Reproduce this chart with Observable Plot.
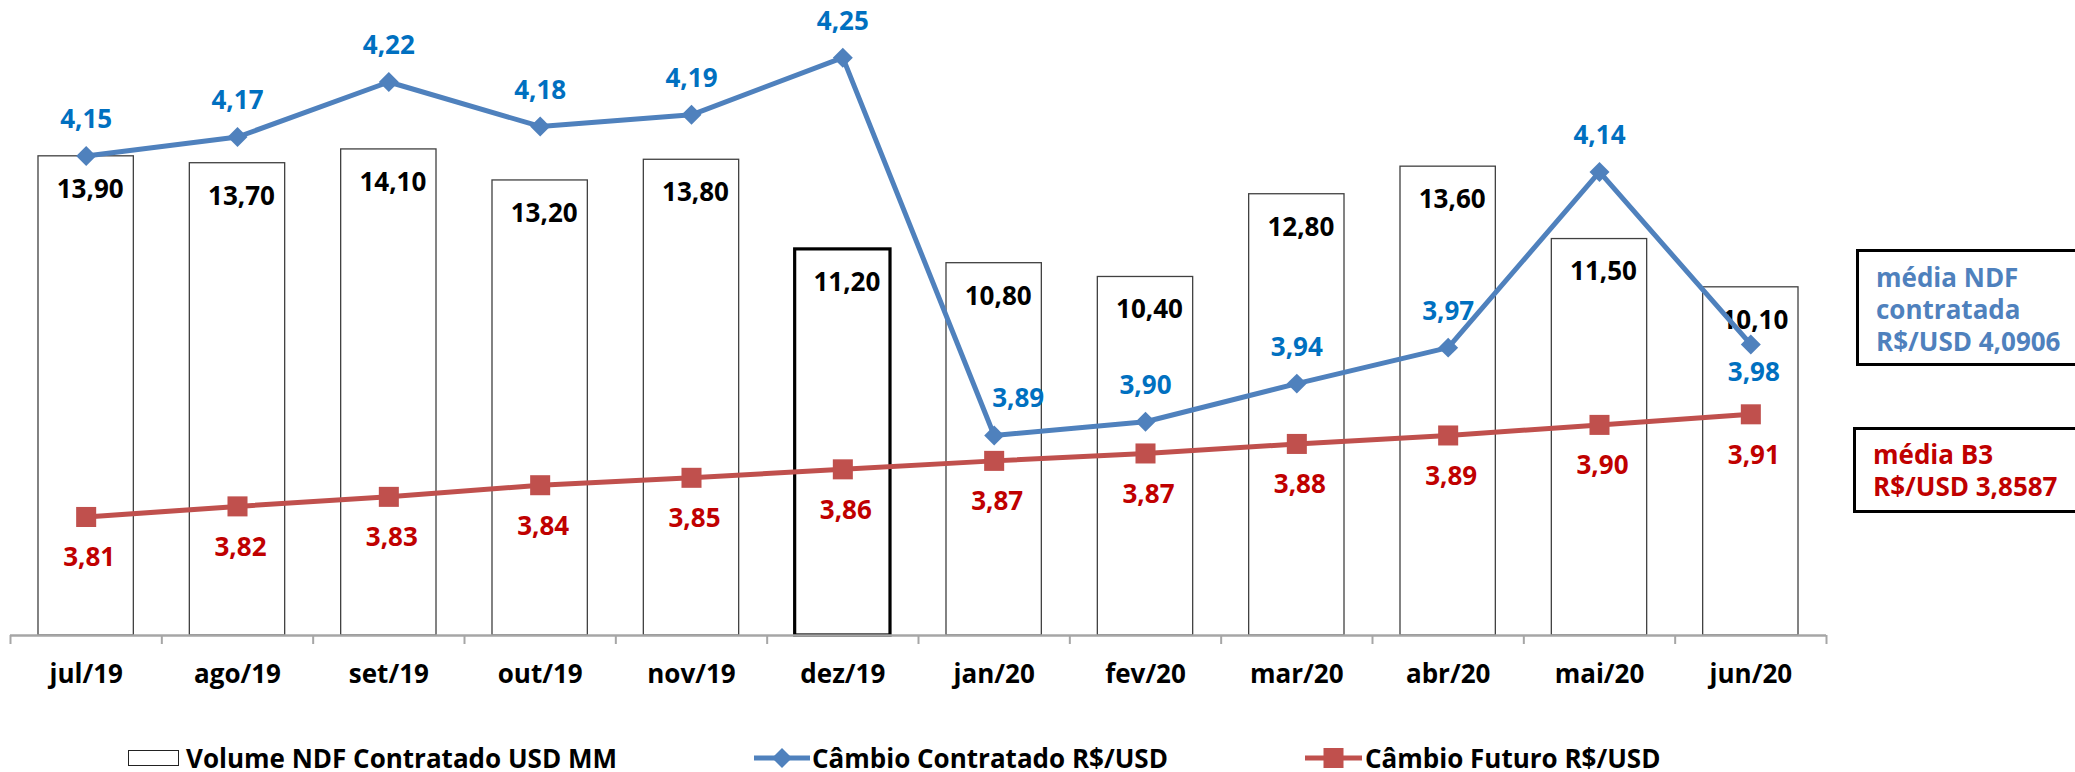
<!DOCTYPE html>
<html>
<head>
<meta charset="utf-8">
<script src="https://cdn.jsdelivr.net/npm/d3@7"></script>
<script src="https://cdn.jsdelivr.net/npm/@observablehq/plot@0.6"></script>
<style>
  html, body { margin: 0; padding: 0; background: #fff; overflow: hidden; width: 2075px; height: 772px; }
  body { position: relative; font-family: "Open Sans", sans-serif; font-weight: 700; }
  #chart { position: absolute; left: 0; top: 0; }
  .note { position: absolute; box-sizing: border-box; border: 3px solid #000; background: #fff;
          font-size: 26px; line-height: 32px; padding-left: 17px; white-space: nowrap; width: 260px; }
  #legend { position: absolute; left: 0; top: 742px; width: 2075px; height: 32px; font-size: 26px; line-height: 32px; color: #000; }
  .item { position: absolute; top: 0; height: 32px; display: flex; align-items: center; white-space: nowrap; }
  .item svg { display: block; }
</style>
</head>
<body>
<div id="chart"></div>
<div class="note" id="noteNdf" style="left:1856px; top:249px; height:117px; padding-top:9px; color:#4f81bd;"></div>
<div class="note" id="noteB3" style="left:1853px; top:427px; height:86px; padding-top:8px; color:#c00000;"></div>
<div id="legend"></div>
<script>
// ---- data (labels show them rounded to 2 decimals) ----
const months = ["jul/19","ago/19","set/19","out/19","nov/19","dez/19","jan/20","fev/20","mar/20","abr/20","mai/20","jun/20"];
const volume = [13.90, 13.70, 14.10, 13.20, 13.80, 11.20, 10.80, 10.40, 12.80, 13.60, 11.50, 10.10];
const cambioContratado = [4.153, 4.171, 4.223, 4.181, 4.192, 4.246, 3.889, 3.902, 3.938, 3.972, 4.138, 3.975];
const cambioFuturo = [3.812, 3.822, 3.831, 3.842, 3.849, 3.857, 3.865, 3.872, 3.881, 3.889, 3.899, 3.909];
const seriesNames = ["Volume NDF Contratado USD MM", "Câmbio Contratado R$/USD", "Câmbio Futuro R$/USD"];
const mediaNdfLines = ["média NDF", "contratada", "R$/USD 4,0906"];
const mediaB3Lines = ["média B3", "R$/USD 3,8587"];
const highlightMonth = "dez/19";

// ---- config ----
const volMax = 18.42;            // primary axis (volume) top
const fxMin = 3.70, fxMax = 4.30; // secondary axis (R$/USD)
const toPrimary = v => (v - fxMin) / (fxMax - fxMin) * volMax;
const fmt = v => v.toFixed(2).replace(".", ",");
const blue = "#4f81bd", blueText = "#0070c0", red = "#c0504d", redText = "#c00000";
const labelBelow = new Set(["jun/20"]);
const labelShiftRight = new Set(["jan/20"]);

const rows = months.map((m, i) => ({i, m, vol: volume[i], cc: cambioContratado[i], cf: cambioFuturo[i]}));
const cx = d => d.i + 0.5;

const W = 2075, H = 740, baseline = 635;
const font = {fontSize: 26, fontWeight: 700};

const chart = Plot.plot({
  width: W, height: H,
  marginLeft: 10, marginRight: 249, marginTop: 0, marginBottom: H - baseline,
  x: {domain: [0, 12], axis: null},
  y: {domain: [0, volMax], axis: null},
  style: {fontFamily: '"Open Sans", sans-serif', background: "white", overflow: "visible"},
  marks: [
    // bars
    Plot.rect(rows, {filter: d => d.m !== highlightMonth, x1: d => d.i + 0.185, x2: d => d.i + 0.815, y1: 0, y2: "vol",
      fill: "white", stroke: "#404040", strokeWidth: 1.3}),
    Plot.rect(rows, {filter: d => d.m === highlightMonth, x1: d => d.i + 0.185, x2: d => d.i + 0.815, y1: 0, y2: "vol",
      fill: "white", stroke: "#000", strokeWidth: 3.2}),
    // axis
    Plot.ruleY([0], {stroke: "#a6a6a6", strokeWidth: 2.5}),
    Plot.axisX({ticks: d3.range(13), tickSize: 9, tickFormat: () => "", stroke: "#a6a6a6", strokeWidth: 2, label: null}),
    Plot.axisX({ticks: d3.range(12).map(i => i + 0.5), tickSize: 0, tickPadding: 29, tickFormat: t => months[Math.floor(t)],
      fill: "#000", ...font, label: null}),
    // bar labels
    Plot.text(rows, {x: cx, y: "vol", text: d => fmt(d.vol), dy: 33, dx: 4, fill: "#000", ...font, lineAnchor: "middle"}),
    // red line
    Plot.line(rows, {x: cx, y: d => toPrimary(d.cf), stroke: red, strokeWidth: 5}),
    Plot.dot(rows, {x: cx, y: d => toPrimary(d.cf), symbol: "square", r: 11.3, fill: red, stroke: null}),
    // blue line
    Plot.line(rows, {x: cx, y: d => toPrimary(d.cc), stroke: blue, strokeWidth: 5}),
    Plot.dot(rows, {x: cx, y: d => toPrimary(d.cc), symbol: "diamond2", r: 9, fill: blue, stroke: null}),
    // line labels
    Plot.text(rows, {x: cx, y: d => toPrimary(d.cf), text: d => fmt(d.cf), dy: 41, dx: 3, fill: redText, ...font, lineAnchor: "middle"}),
    Plot.text(rows, {filter: d => !labelBelow.has(d.m) && !labelShiftRight.has(d.m), x: cx, y: d => toPrimary(d.cc), text: d => fmt(d.cc),
      dy: -36, fill: blueText, ...font, lineAnchor: "middle"}),
    Plot.text(rows, {filter: d => labelShiftRight.has(d.m), x: cx, y: d => toPrimary(d.cc), text: d => fmt(d.cc),
      dy: -37, dx: 24, fill: blueText, ...font, lineAnchor: "middle"}),
    Plot.text(rows, {filter: d => labelBelow.has(d.m), x: cx, y: d => toPrimary(d.cc), text: d => fmt(d.cc),
      dy: 28, dx: 3, fill: blueText, ...font, lineAnchor: "middle"})
  ]
});
document.getElementById("chart").appendChild(chart);

// notes
document.getElementById("noteNdf").innerHTML = mediaNdfLines.join("<br>");
document.getElementById("noteB3").innerHTML = mediaB3Lines.join("<br>");

// legend
const legend = document.getElementById("legend");
const swatches = [
  `<span style="display:inline-block;box-sizing:border-box;width:51px;height:16px;border:1.5px solid #222;background:#fff;margin-right:7px"></span>`,
  `<svg width="56" height="22" style="margin-right:2px"><line x1="0" y1="11" x2="56" y2="11" stroke="${blue}" stroke-width="5"/><path d="M28,1 L38,11 L28,21 L18,11 Z" fill="${blue}"/></svg>`,
  `<svg width="57" height="22" style="margin-right:3px"><line x1="0" y1="11" x2="57" y2="11" stroke="${red}" stroke-width="5"/><rect x="18.5" y="1" width="20" height="20" fill="${red}"/></svg>`
];
const legendLeft = [128, 754, 1305];
seriesNames.forEach((name, k) => {
  const it = document.createElement("div");
  it.className = "item";
  it.style.left = legendLeft[k] + "px";
  it.innerHTML = swatches[k] + `<span>${name}</span>`;
  legend.appendChild(it);
});
</script>
</body>
</html>
